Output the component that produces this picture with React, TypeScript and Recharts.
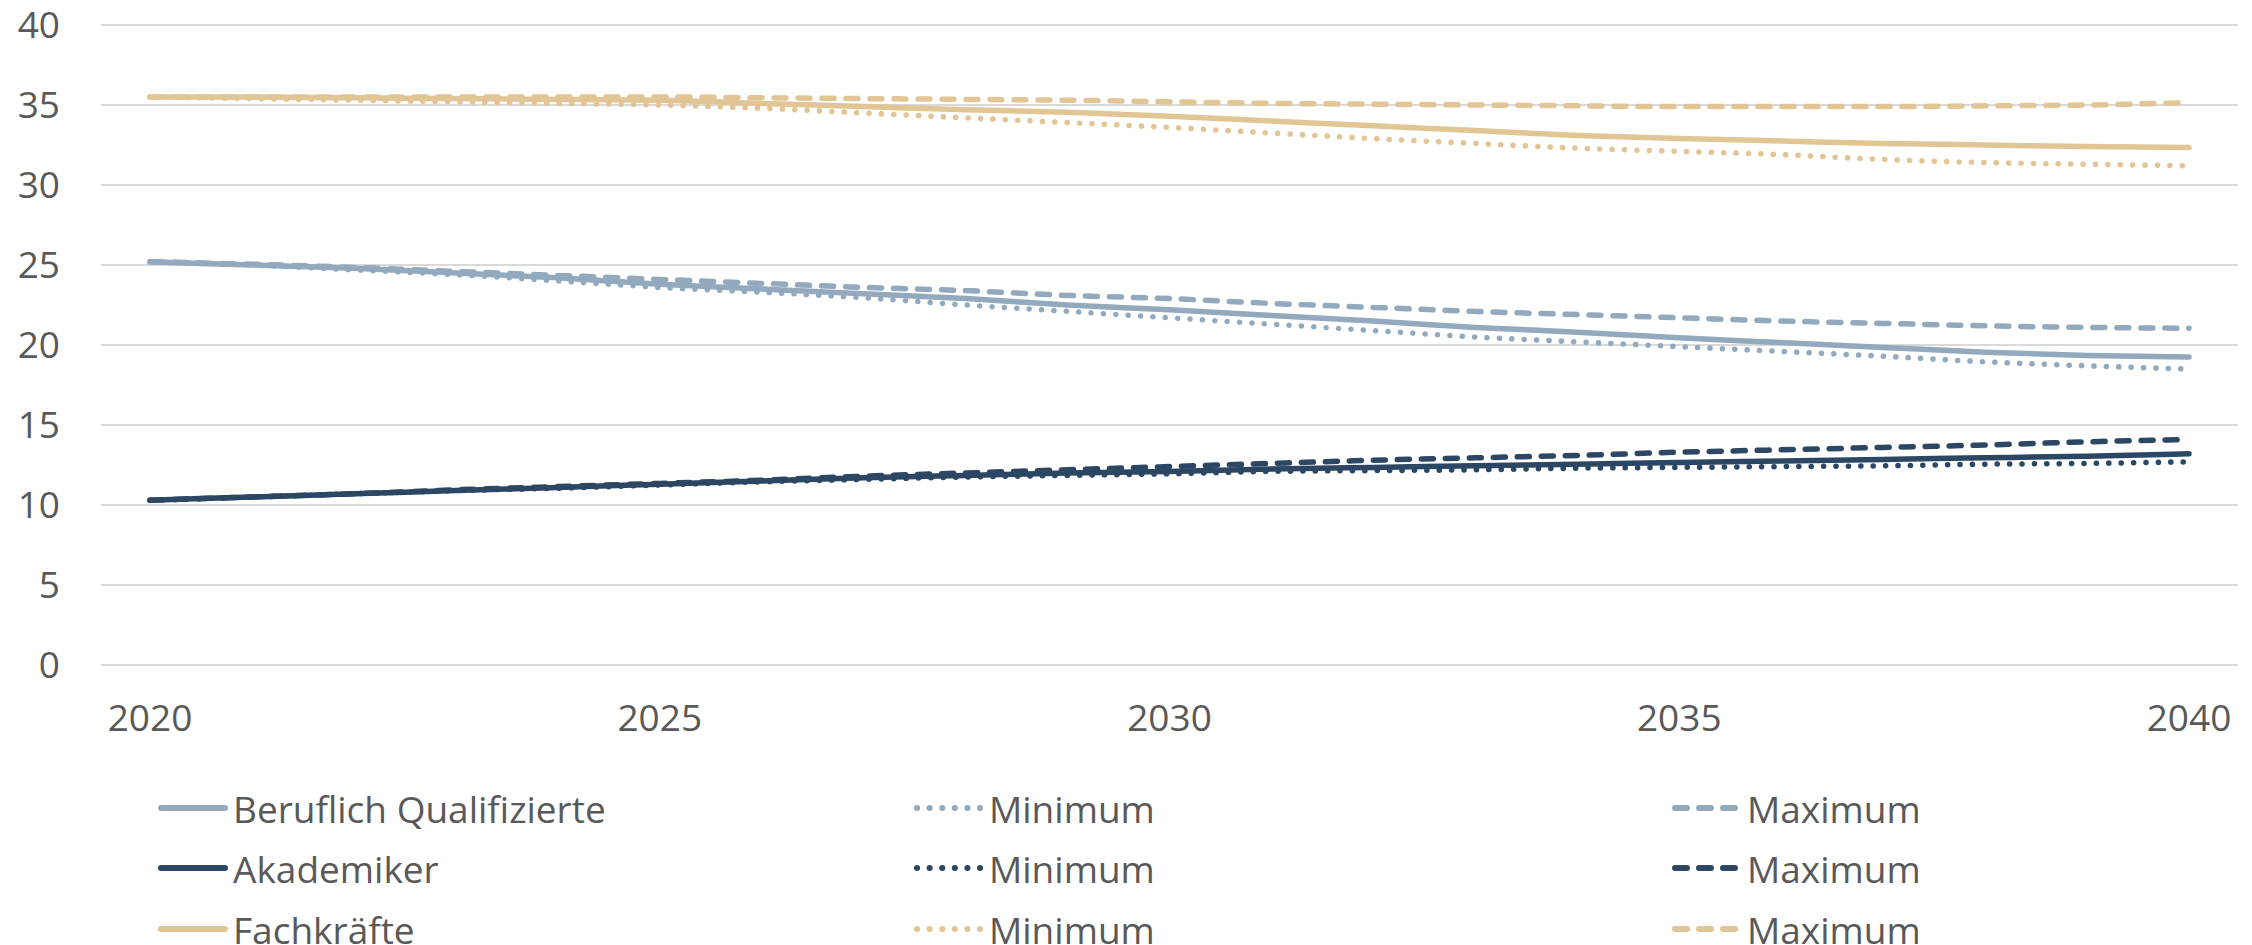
import React from 'react';
import { LineChart, Line, XAxis, YAxis, CartesianGrid, Legend } from 'recharts';

const years = ['2020','2021','2022','2023','2024','2025','2026','2027','2028','2029','2030','2031','2032','2033','2034','2035','2036','2037','2038','2039','2040'];

const bqMain = [25.2, 25.0, 24.8, 24.5, 24.2, 23.8, 23.5, 23.2, 22.9, 22.5, 22.2, 21.85, 21.5, 21.1, 20.8, 20.45, 20.15, 19.85, 19.55, 19.35, 19.25];
const bqMin = [25.2, 25.0, 24.7, 24.4, 24.0, 23.6, 23.3, 22.95, 22.5, 22.1, 21.7, 21.3, 20.9, 20.5, 20.2, 19.9, 19.6, 19.3, 18.95, 18.7, 18.5];
const bqMax = [25.2, 25.05, 24.85, 24.6, 24.35, 24.1, 23.85, 23.6, 23.4, 23.1, 22.9, 22.6, 22.35, 22.1, 21.9, 21.7, 21.5, 21.35, 21.2, 21.1, 21.05];

const akMain = [10.3, 10.5, 10.7, 10.9, 11.1, 11.3, 11.5, 11.7, 11.85, 12.0, 12.1, 12.25, 12.35, 12.45, 12.55, 12.65, 12.75, 12.85, 12.95, 13.05, 13.2];
const akMin = [10.3, 10.5, 10.7, 10.9, 11.05, 11.25, 11.45, 11.6, 11.75, 11.85, 11.95, 12.1, 12.15, 12.2, 12.3, 12.35, 12.4, 12.45, 12.55, 12.6, 12.7];
const akMax = [10.3, 10.5, 10.7, 10.95, 11.15, 11.35, 11.55, 11.8, 12.0, 12.2, 12.4, 12.6, 12.8, 12.95, 13.1, 13.3, 13.45, 13.6, 13.75, 13.95, 14.1];

const fkMain = [35.5, 35.5, 35.45, 35.4, 35.35, 35.3, 35.1, 34.9, 34.7, 34.55, 34.3, 34.0, 33.7, 33.4, 33.1, 32.9, 32.75, 32.6, 32.5, 32.4, 32.35];
const fkMin = [35.5, 35.4, 35.3, 35.2, 35.1, 35.0, 34.8, 34.5, 34.2, 33.9, 33.6, 33.25, 32.9, 32.6, 32.3, 32.1, 31.9, 31.6, 31.4, 31.3, 31.2];
const fkMax = [35.5, 35.5, 35.5, 35.5, 35.5, 35.5, 35.45, 35.4, 35.35, 35.3, 35.2, 35.1, 35.05, 35.0, 34.95, 34.9, 34.9, 34.9, 34.95, 35.0, 35.15];

const yTicks = [0, 5, 10, 15, 20, 25, 30, 35, 40];

const groupNames = ['Beruflich Qualifizierte', 'Akademiker', 'Fachkräfte'];
const variantNames = ['', 'Minimum', 'Maximum'];
const groupColors = ['#93A9BE', '#2C4763', '#E2C594'];
const groupSeries = [
  [bqMain, bqMin, bqMax],
  [akMain, akMin, akMax],
  [fkMain, fkMin, fkMax],
];

const DOT = '0.1 12.3';
const DASH = '12 12';
const variantDash: (string | undefined)[] = [undefined, DOT, DASH];

const data = years.map((y, i) => {
  const row: Record<string, number | string> = { year: y };
  groupSeries.forEach((g, gi) => g.forEach((arr, vi) => { row[`s${gi}_${vi}`] = arr[i]; }));
  return row;
});

const seriesList = groupSeries.flatMap((g, gi) => g.map((_, vi) => ({
  key: `s${gi}_${vi}`,
  name: vi === 0 ? groupNames[gi] : variantNames[vi],
  color: groupColors[gi],
  dash: variantDash[vi],
  gi, vi,
})));

const FONT = '"Open Sans", sans-serif';
const TEXT = '#595959';

const colX = [149, 905, 1663];
const rowY = [800, 860, 921];

const renderLegend = () => (
  <div style={{ position: 'relative', width: 2244, height: 937 }}>
    {seriesList.map((s) => (
      <div key={s.key} style={{ position: 'absolute', left: colX[s.vi], top: rowY[s.gi] - 30, height: 60, display: 'flex', alignItems: 'center', whiteSpace: 'nowrap' }}>
        <svg width={72} height={12} style={{ display: 'block' }}>
          <line x1={4} y1={6} x2={68} y2={6} stroke={s.color} strokeWidth={6} strokeLinecap="round" strokeDasharray={s.vi === 1 ? '0.1 12.5' : s.vi === 2 ? '12 12' : undefined} />
        </svg>
        <span style={{ marginLeft: 4, fontFamily: FONT, fontSize: 37, color: TEXT }}>{s.name}</span>
      </div>
    ))}
  </div>
);

export default function App() {
  return (
    <div style={{ width: 2244, height: 937 }}>
      <LineChart width={2244} height={937} data={data} margin={{ top: 17, right: 14, left: 0, bottom: 200 }}>
        <CartesianGrid horizontal vertical={false} stroke="#D9D9D9" strokeWidth={2} />
        <XAxis
          dataKey="year"
          type="category"
          interval={4}
          padding={{ left: 49, right: 49 }}
          axisLine={false}
          tickLine={false}
          tickSize={0}
          tickMargin={40}
          height={80}
          tick={{ fontSize: 37, fill: TEXT, fontFamily: FONT }}
        />
        <YAxis
          domain={[0, 40]}
          ticks={yTicks}
          interval={0}
          width={93}
          axisLine={false}
          tickLine={false}
          tickSize={0}
          tickMargin={41}
          tick={{ fontSize: 37, fill: TEXT, fontFamily: FONT }}
        />
        <Legend
          layout="horizontal"
          verticalAlign="middle"
          align="center"
          content={renderLegend}
          wrapperStyle={{ left: 0, top: 0, width: 2244, height: 937, pointerEvents: 'none' }}
        />
        {seriesList.map((s) => (
          <Line
            key={s.key}
            dataKey={s.key}
            name={s.name}
            type="monotone"
            stroke={s.color}
            strokeWidth={5.5}
            strokeLinecap="round"
            strokeDasharray={s.dash}
            dot={false}
            activeDot={false}
            isAnimationActive={false}
          />
        ))}
      </LineChart>
    </div>
  );
}
